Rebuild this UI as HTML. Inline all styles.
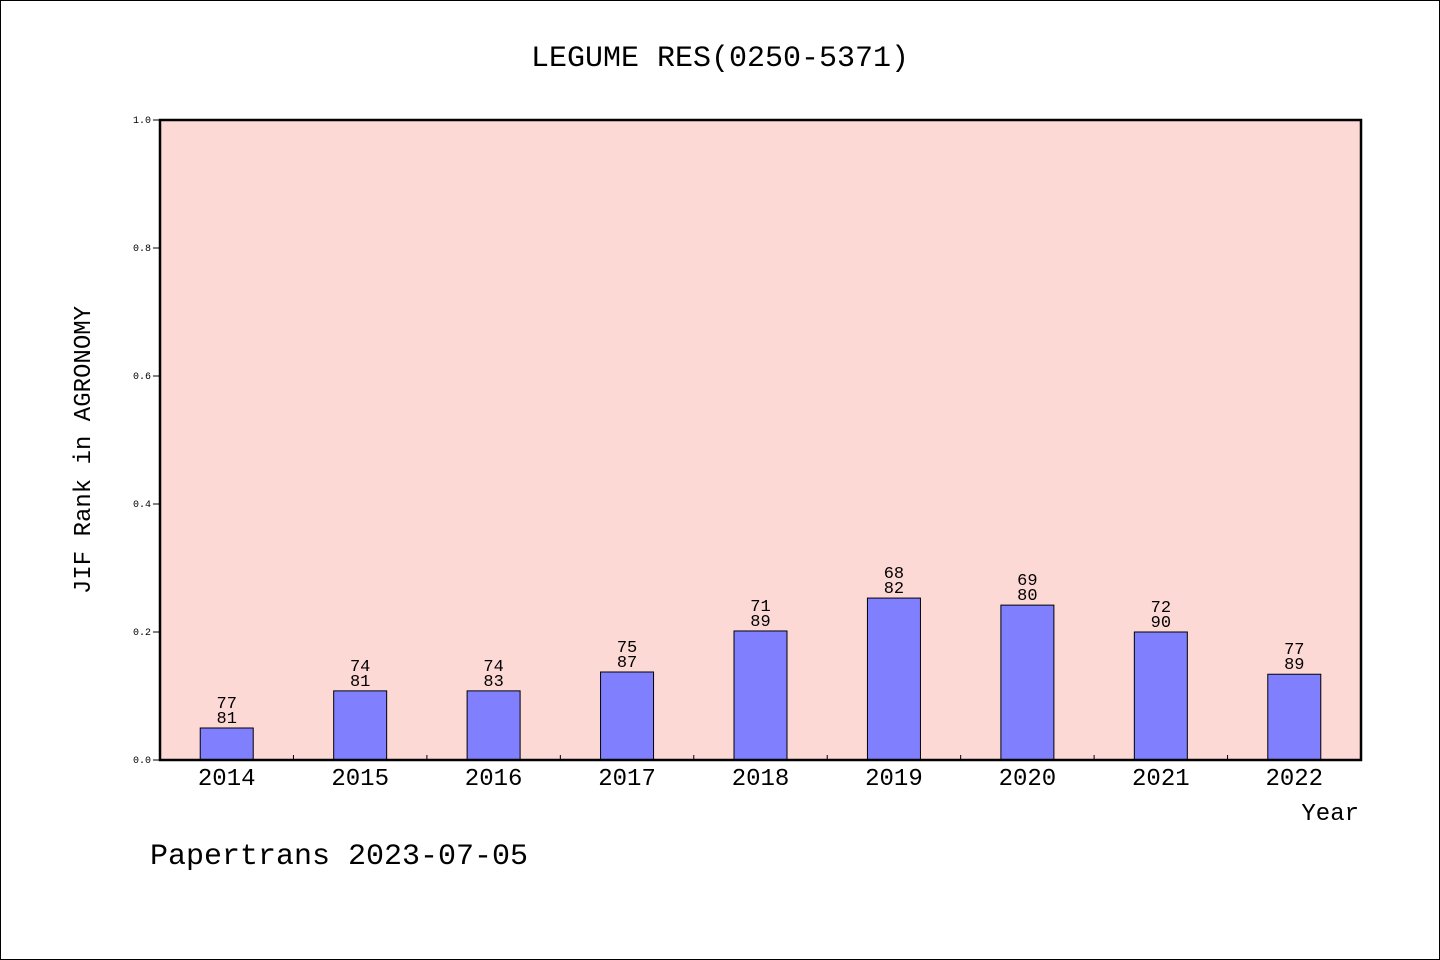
<!DOCTYPE html>
<html><head><meta charset="utf-8"><style>
body{margin:0;background:#fff}
svg{display:block}
text{font-family:"Liberation Mono","WenQuanYi Zen Hei",monospace;fill:#000}
</style></head><body>
<svg width="1440" height="960">
<rect x="0.5" y="0.5" width="1439" height="959" fill="#fff" stroke="#000"/>
<text x="720" y="66" font-size="30" text-anchor="middle">LEGUME RES(0250-5371)</text>
<rect x="160" y="120" width="1201" height="640" fill="#fdd9d6"/>
<g id="bars"></g>
<rect x="160" y="120" width="1201" height="640" fill="none" stroke="#000" stroke-width="2.5"/>
<g id="axes"></g>
<text x="90" y="450" font-size="24" text-anchor="middle" transform="rotate(-90 90 450)">JIF Rank in AGRONOMY</text>
<text x="1359" y="820" font-size="24" text-anchor="end">Year</text>
<text x="150" y="864" font-size="30">Papertrans 2023-07-05</text>
</svg>
<script>
const years=['2014','2015','2016','2017','2018','2019','2020','2021','2022'];
const values=[0.05,0.108,0.108,0.1375,0.2016,0.253,0.242,0.2,0.134];
const ranks=['77','74','74','75','71','68','69','72','77'];
const totals=['81','81','83','87','89','82','80','90','89'];
const yTicks=['0.0','0.2','0.4','0.6','0.8','1.0'];
const NS='http://www.w3.org/2000/svg';
const x0=160,x1=1361,yb=760,yt=120;
const step=(x1-x0)/years.length;
const xc=i=>x0+step*(i+0.5);
const ys=v=>yb-(yb-yt)*v;
function mk(t,a,p){const e=document.createElementNS(NS,t);for(const k in a)e.setAttribute(k,a[k]);p.appendChild(e);return e;}
const bars=document.getElementById('bars'),axes=document.getElementById('axes');
years.forEach((y,i)=>{
 const r=mk('rect',{x:xc(i)-26.5,y:ys(values[i]),width:53,height:yb-ys(values[i]),fill:'#8080ff',stroke:'#000','stroke-width':1},bars);
 
 
 const t1=mk('text',{x:xc(i),y:ys(values[i])-20,'font-size':17,'text-anchor':'middle'},bars);t1.textContent=ranks[i];
 
 
 const t2=mk('text',{x:xc(i),y:ys(values[i])-5,'font-size':17,'text-anchor':'middle'},bars);t2.textContent=totals[i];
 
 
 const xl=mk('text',{x:xc(i),y:785,'font-size':24,'text-anchor':'middle'},axes);xl.textContent=y;
 
 
 if(i>0){const tk=mk('line',{x1:x0+step*i,x2:x0+step*i,y1:yb,y2:yb-5,stroke:'#000'},axes);
 
 }
});
yTicks.forEach(v=>{
 const y=ys(parseFloat(v));
 const l=mk('line',{x1:153,x2:160,y1:y,y2:y,stroke:'#000'},axes);
 
 
 const t=mk('text',{x:151,y:y+3,'font-size':10,'text-anchor':'end'},axes);t.textContent=v;
 
 
});
</script>
</body></html>
